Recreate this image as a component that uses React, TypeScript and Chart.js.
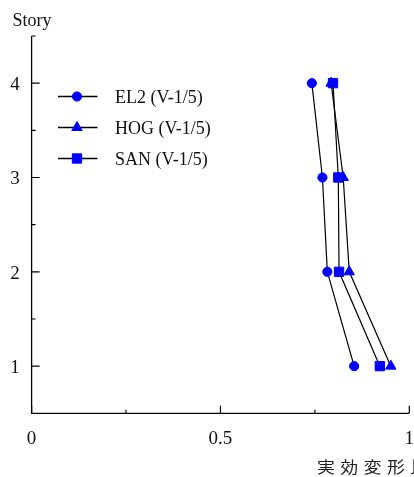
import React, { useEffect, useRef } from "react";
import { Chart, registerables } from "chart.js";

Chart.register(...registerables);

// Stories and effective deformation ratios per ground motion
const stories = [1, 2, 3, 4];
const el2 = [0.854, 0.783, 0.77, 0.742];
const hog = [0.951, 0.841, 0.825, 0.793];
const san = [0.922, 0.814, 0.812, 0.798];

const seriesNames = ["EL2 (V-1/5)", "HOG (V-1/5)", "SAN (V-1/5)"];
const seriesMarkers = ["circle", "triangle", "rect"];

const xMajorTicks = [0, 0.5, 1];
const xTickLabels = ["0", "0.5", "1"];
const xMinorTicks = [0.25, 0.75];
const yMajorTicks = [1, 2, 3, 4];
const yMinorTicks = [1.5, 2.5, 3.5, 4.5];

const yTitle = "Story";
const xTitle = "実効変形比";

const BLUE = "#0000ff";
const SERIF = "'Liberation Serif', 'Times New Roman', serif";
const CJK = "'Noto Sans CJK JP', sans-serif";

const markerRadius: Record<string, number> = { circle: 4.6, triangle: 6, rect: 6.6 };

const toPoints = (xs: number[]) => xs.map((x, i) => ({ x, y: stories[i] }));

function drawMarker(ctx: CanvasRenderingContext2D, style: string, x: number, y: number, r: number) {
  ctx.beginPath();
  if (style === "circle") {
    ctx.arc(x, y, r, 0, Math.PI * 2);
  } else if (style === "triangle") {
    for (let k = 0; k < 3; k++) {
      const a = (k * 2 * Math.PI) / 3;
      const px = x + Math.sin(a) * r;
      const py = y - Math.cos(a) * r;
      if (k === 0) ctx.moveTo(px, py);
      else ctx.lineTo(px, py);
    }
    ctx.closePath();
  } else {
    const s = Math.SQRT1_2 * r;
    ctx.rect(x - s, y - s, 2 * s, 2 * s);
  }
  ctx.fill();
  ctx.stroke();
}

// Axes with inward ticks, labels, titles and the legend box
const framePlugin = {
  id: "frame",
  afterDraw(chart: any) {
    const { ctx, chartArea, scales } = chart;
    const xs = scales.x;
    const ys = scales.y;
    const left = chartArea.left;
    const bottom = chartArea.bottom;
    ctx.save();

    // axis lines
    ctx.strokeStyle = "#000";
    ctx.lineWidth = 1.3;
    ctx.beginPath();
    ctx.moveTo(left, ys.getPixelForValue(4.5));
    ctx.lineTo(left, bottom);
    ctx.lineTo(xs.getPixelForValue(1), bottom);
    ctx.stroke();

    // inward tick marks
    ctx.lineWidth = 1.2;
    ctx.beginPath();
    xMajorTicks.forEach((v) => {
      const px = xs.getPixelForValue(v);
      ctx.moveTo(px, bottom);
      ctx.lineTo(px, bottom - 7.5);
    });
    xMinorTicks.forEach((v) => {
      const px = xs.getPixelForValue(v);
      ctx.moveTo(px, bottom);
      ctx.lineTo(px, bottom - 3.5);
    });
    yMajorTicks.forEach((v) => {
      const py = ys.getPixelForValue(v);
      ctx.moveTo(left, py);
      ctx.lineTo(left + 8, py);
    });
    yMinorTicks.forEach((v) => {
      const py = ys.getPixelForValue(v);
      ctx.moveTo(left, py);
      ctx.lineTo(left + 4, py);
    });
    ctx.stroke();

    // tick labels
    ctx.fillStyle = "#111";
    ctx.font = `19px ${SERIF}`;
    ctx.textAlign = "center";
    ctx.textBaseline = "alphabetic";
    xMajorTicks.forEach((v, i) => {
      ctx.fillText(xTickLabels[i], xs.getPixelForValue(v), 443.5);
    });
    yMajorTicks.forEach((v) => {
      ctx.fillText(String(v), 15, ys.getPixelForValue(v) + 7);
    });

    // axis titles
    ctx.textAlign = "left";
    ctx.font = `18px ${SERIF}`;
    ctx.fillText(yTitle, 12.5, 26);

    ctx.font = `16px ${CJK}`;
    ctx.fillStyle = "#222";
    Array.from(xTitle).forEach((ch, i) => {
      ctx.save();
      ctx.translate(317 + i * 23.3, 472.5);
      ctx.scale(1.12, 1);
      ctx.fillText(ch, 0, 0);
      ctx.restore();
    });

    // legend
    const rowY = [96.5, 127.5, 158.5];
    seriesNames.forEach((name, i) => {
      const y = rowY[i];
      ctx.strokeStyle = "#000";
      ctx.lineWidth = 1.3;
      ctx.beginPath();
      ctx.moveTo(58, y);
      ctx.lineTo(97.5, y);
      ctx.stroke();
      ctx.fillStyle = BLUE;
      ctx.strokeStyle = BLUE;
      ctx.lineWidth = 1;
      const style = seriesMarkers[i];
      drawMarker(ctx, style, 77, y, markerRadius[style]);
      ctx.fillStyle = "#111";
      ctx.font = `18px ${SERIF}`;
      ctx.textAlign = "left";
      ctx.fillText(name, 115, y + 6.5);
    });

    ctx.restore();
  },
};

export default function App() {
  const canvasRef = useRef<HTMLCanvasElement | null>(null);

  useEffect(() => {
    const canvas = canvasRef.current;
    if (!canvas) return;
    const values = [el2, hog, san];
    const chart = new Chart(canvas, {
      type: "scatter",
      data: {
        datasets: values.map((vals, i) => ({
          label: seriesNames[i],
          data: toPoints(vals),
          showLine: true,
          borderColor: "#000",
          borderWidth: 1.2,
          pointStyle: seriesMarkers[i] as any,
          pointRadius: markerRadius[seriesMarkers[i]],
          pointBackgroundColor: BLUE,
          pointBorderColor: BLUE,
          pointBorderWidth: 1,
          tension: 0,
        })),
      },
      options: {
        responsive: false,
        animation: false,
        devicePixelRatio: 1,
        layout: {
          autoPadding: false,
          padding: { left: 31.6, right: 4.7, top: 36, bottom: 63.7 },
        },
        plugins: { legend: { display: false }, tooltip: { enabled: false } },
        scales: {
          x: { type: "linear", min: 0, max: 1, display: false },
          y: { type: "linear", min: 0.5, max: 4.5, display: false },
        },
      },
      plugins: [framePlugin],
    });
    return () => chart.destroy();
  }, []);

  return (
    <div style={{ position: "fixed", left: 0, top: 0, width: 414, height: 477, background: "#fff" }}>
      <canvas ref={canvasRef} width={414} height={477} style={{ display: "block" }} />
    </div>
  );
}
